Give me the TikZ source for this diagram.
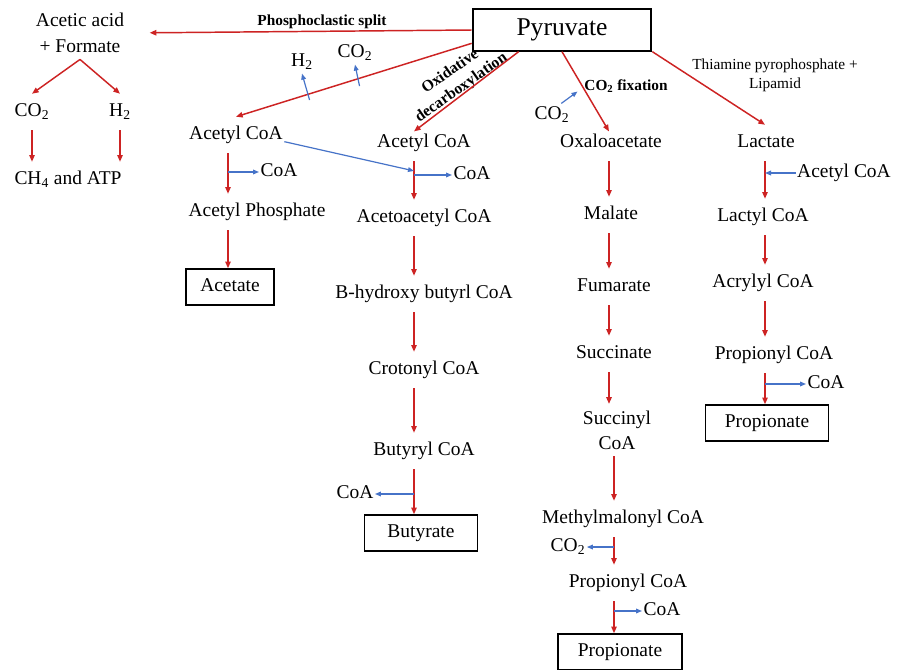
\documentclass[tikz,border=0pt]{standalone}
\usepackage{fontspec}
\setmainfont{Liberation Serif}
\usetikzlibrary{arrows.meta, positioning, calc}
\definecolor{pathred}{RGB}{205,35,35}
\definecolor{pathblue}{RGB}{70,115,200}

\begin{document}
\begin{tikzpicture}[x=0.75pt, y=-0.75pt,
    chem/.style={font=\fontsize{14.6}{17.5}\selectfont, inner xsep=1pt, inner ysep=7pt, text height=10pt, text depth=3pt},
    chemtwo/.style={font=\fontsize{14.6}{18.5}\selectfont, align=center, inner xsep=1pt, inner ysep=5pt},
    endbox/.style={chem, draw, line width=1.1pt, minimum height=25pt},
    note/.style={font=\fontsize{11.5}{14}\selectfont, align=center, inner sep=1pt},
    notebold/.style={note, font=\fontsize{11.5}{14}\selectfont\bfseries},
    rarrow/.style={draw=pathred, line width=1.1pt, -{Triangle[length=5pt,width=4pt]}},
    barrow/.style={draw=pathblue, line width=0.9pt, -{Triangle[length=4.5pt,width=3.5pt]}}]
    % Fix the page size
    \fill[white] (0,0) rectangle (901,669);
    \useasboundingbox (0,0) rectangle (901,669);
    % Columns of the pathways
    \coordinate (c1) at (228,0);
    \coordinate (c2) at (414,0);
    \coordinate (c3) at (609,0);
    \coordinate (c3b) at (614,0);
    \coordinate (c4) at (765,0);

    % Start
    \node[draw, line width=1.5pt, minimum width=134pt, minimum height=31pt, font=\fontsize{19.2}{22}\selectfont] (pyr) at (562,30) {Pyruvate};

    % Phosphoclastic split
    \node[chemtwo, font=\fontsize{14.6}{19}\selectfont] (acetic) at (80,33) {Acetic acid\\+ Formate};
    \node[chem] (co2a) at (32,112) {CO\textsubscript{2}};
    \node[chem] (h2a) at (120,112) {H\textsubscript{2}};
    \node[chem] (ch4) at (68,180) {CH\textsubscript{4} and ATP};
    \node[notebold] (phospho) at (322,22) {Phosphoclastic split};

    % Acetate
    \node[chem, inner ysep=2pt] (h2b) at (302,62) {H\textsubscript{2}};
    \node[chem, inner ysep=2pt] (co2b) at (355,53) {CO\textsubscript{2}};
    \node[chem] (acoa1) at (236,135) {Acetyl CoA};
    \node[chem] (coa1) at (279,172) {CoA};
    \node[chem] (aphos) at (257,212) {Acetyl Phosphate};
    \node[endbox, minimum width=66pt] (acetate) at (230,287) {Acetate};

    % Butyrate
    \node[notebold, font=\fontsize{11.8}{14.5}\selectfont\bfseries, rotate=35] (oxdec) at (456,80) {Oxidative\\decarboxylation};
    \node[chem] (acoa2) at (424,143) {Acetyl CoA};
    \node[chem] (coa2) at (472,175) {CoA};
    \node[chem] (acac) at (424,218) {Acetoacetyl CoA};
    \node[chem] (hbut) at (424,294) {B-hydroxy butyrl CoA};
    \node[chem] (crot) at (424,370) {Crotonyl CoA};
    \node[chem] (butcoa) at (424,451) {Butyryl CoA};
    \node[chem] (coa3) at (355,494) {CoA};
    \node[endbox, minimum width=85pt] (butyrate) at (421,533) {Butyrate};

    % Propionate by CO2 fixation
    \node[notebold] (co2fix) at (626,86) {CO\textsubscript{2} fixation};
    \node[chem, inner ysep=2pt] (co2c) at (552,115) {CO\textsubscript{2}};
    \node[chem] (oxa) at (611,143) {Oxaloacetate};
    \node[chem] (mal) at (611,215) {Malate};
    \node[chem] (fum) at (614,287) {Fumarate};
    \node[chem] (succ) at (614,354) {Succinate};
    \node[chemtwo] (succoa) at (617,430) {Succinyl\\CoA};
    \node[chem] (mmcoa) at (623,519) {Methylmalonyl CoA};
    \node[chem] (co2d) at (568,547) {CO\textsubscript{2}};
    \node[chem] (pcoa1) at (628,583) {Propionyl CoA};
    \node[chem] (coa4) at (662,611) {CoA};
    \node[endbox, minimum width=93pt] (prop1) at (620,652) {Propionate};

    % Propionate by lactate
    \node[note] (tpp) at (775,75) {Thiamine pyrophosphate +\\Lipamid};
    \node[chem] (lact) at (766,143) {Lactate};
    \node[chem] (acoa4) at (844,173) {Acetyl CoA};
    \node[chem] (lacoa) at (763,217) {Lactyl CoA};
    \node[chem] (acrcoa) at (763,283) {Acrylyl CoA};
    \node[chem] (pcoa2) at (774,355) {Propionyl CoA};
    \node[chem] (coa5) at (826,384) {CoA};
    \node[endbox, minimum width=92pt] (prop2) at (767,423) {Propionate};

    % Arrows out of pyruvate
    \draw[rarrow, shorten >=18pt] (pyr.west) -- (acetic.east);
    \draw[rarrow] ([yshift=-10pt]pyr.west) -- coordinate[pos=0.69] (cx1) coordinate[pos=0.48] (cx2) (acoa1.north);
    \draw[rarrow] ($(pyr.south west)!0.26!(pyr.south east)$) -- ([yshift=-5pt]acoa2.north -| c2);
    \draw[rarrow] (pyr.south) -- coordinate[pos=0.5] (cx3) ([yshift=-5pt]oxa.north -| c3);
    \draw[rarrow] (pyr.south east) -- (lact.north -| c4);
    \draw[barrow] ($(cx1)+(0.5,6)$) -- (h2b.south);
    \draw[barrow] ($(cx2)+(1,7.5)$) -- (co2b.south);
    \draw[barrow] ([xshift=7pt]co2c.north) -- ([xshift=-6pt]cx3);

    % Acetic acid + formate
    \draw[rarrow] (acetic.south) -- (co2a.north);
    \draw[rarrow] (acetic.south) -- (h2a.north);
    \draw[rarrow] (co2a.south) -- (co2a.south |- ch4.north);
    \draw[rarrow] (h2a.south) -- (h2a.south |- ch4.north);

    % Acetate column
    \draw[rarrow] (acoa1.south -| c1) -- (aphos.north -| c1);
    \draw[barrow] (coa1.west -| c1) -- (coa1.west);
    \draw[rarrow] (aphos.south -| c1) -- (acetate.north -| c1);

    % Butyrate column
    \draw[rarrow] (acoa2.south -| c2) -- coordinate[pos=0.25] (j2) (acac.north -| c2);
    \draw[barrow] ([yshift=-5pt]acoa1.east) -- (j2);
    \draw[barrow] (coa2.west -| c2) -- (coa2.west);
    \draw[rarrow] (acac.south -| c2) -- (hbut.north -| c2);
    \draw[rarrow] (hbut.south -| c2) -- (crot.north -| c2);
    \draw[rarrow] (crot.south -| c2) -- (butcoa.north -| c2);
    \draw[rarrow] (butcoa.south -| c2) -- (butyrate.north -| c2);
    \draw[barrow] (coa3.east -| c2) -- (coa3.east);

    % Succinate column
    \draw[rarrow] (oxa.south -| c3) -- (mal.north -| c3);
    \draw[rarrow] (mal.south -| c3) -- (fum.north -| c3);
    \draw[rarrow] (fum.south -| c3) -- (succ.north -| c3);
    \draw[rarrow] (succ.south -| c3) -- (succoa.north -| c3);
    \draw[rarrow] (succoa.south -| c3b) -- (mmcoa.north -| c3b);
    \draw[rarrow] (mmcoa.south -| c3b) -- (pcoa1.north -| c3b);
    \draw[barrow] (co2d.east -| c3b) -- (co2d.east);
    \draw[rarrow] (pcoa1.south -| c3b) -- (prop1.north -| c3b);
    \draw[barrow] (coa4.west -| c3b) -- (coa4.west);

    % Lactate column
    \draw[rarrow] (lact.south -| c4) -- (lacoa.north -| c4);
    \draw[barrow] (acoa4.west) -- (acoa4.west -| c4);
    \draw[rarrow] (lacoa.south -| c4) -- (acrcoa.north -| c4);
    \draw[rarrow] (acrcoa.south -| c4) -- (pcoa2.north -| c4);
    \draw[rarrow] (pcoa2.south -| c4) -- (prop2.north -| c4);
    \draw[barrow] (coa5.west -| c4) -- (coa5.west);
\end{tikzpicture}
\end{document}
